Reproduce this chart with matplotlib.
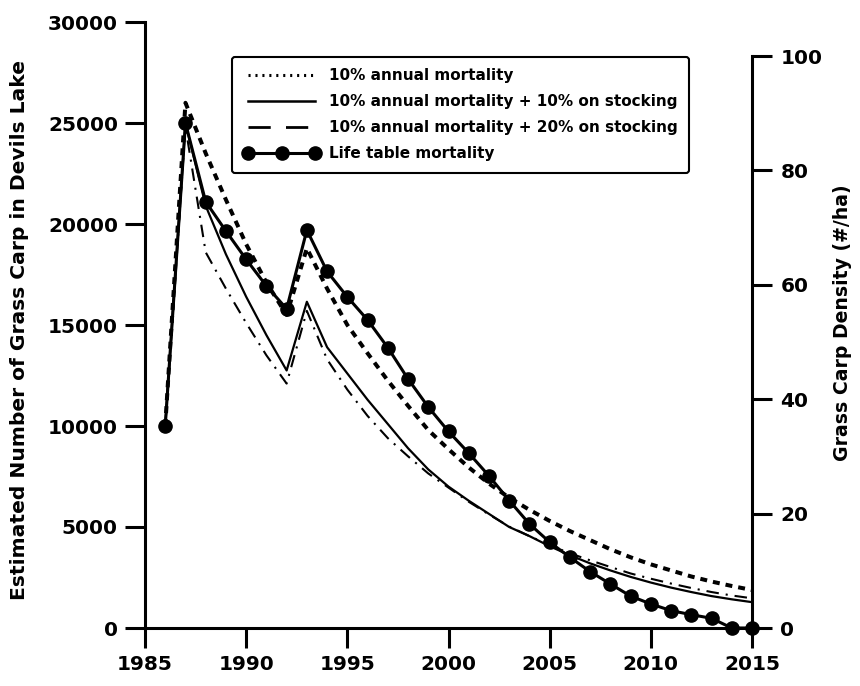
import matplotlib
matplotlib.use("Agg")
import matplotlib.pyplot as plt
from matplotlib.lines import Line2D

plt.rcParams['font.family'] = ['DejaVu Sans']
plt.rcParams['font.weight'] = 'bold'
plt.rcParams['lines.scale_dashes'] = False

# values
years = list(range(1986, 2016))

mort10 = [10000, 26000, 23500, 21200, 19000, 17100, 15500, 18800, 16800, 15000,
          13600, 12250, 11000, 9800, 8850, 7950, 7150, 6450, 5850, 5300,
          4800, 4350, 3900, 3500, 3150, 2850, 2550, 2300, 2080, 1880]

mort10_stock10 = [10000, 25000, 20900, 18500, 16400, 14500, 12750, 16150, 13900, 12600,
                  11300, 10100, 8900, 7850, 7000, 6300, 5650, 5000, 4550, 4050,
                  3600, 3200, 2850, 2530, 2250, 2000, 1780, 1580, 1420, 1280]

mort10_stock20 = [10000, 24800, 18600, 16800, 15100, 13500, 12100, 15700, 13300, 11800,
                  10500, 9400, 8500, 7650, 6950, 6250, 5620, 5020, 4550, 4100,
                  3700, 3350, 3020, 2700, 2440, 2200, 1980, 1780, 1610, 1470]

life_table = [10000, 25000, 21100, 19650, 18250, 16930, 15800, 19700, 17650, 16390,
              15250, 13880, 12330, 10940, 9730, 8660, 7530, 6310, 5150, 4250,
              3500, 2790, 2180, 1580, 1190, 860, 660, 480, 0, 0]

labels = ['10% annual mortality',
          '10% annual mortality + 10% on stocking',
          '10% annual mortality + 20% on stocking',
          'Life table mortality']

left_ticks = [0, 5000, 10000, 15000, 20000, 25000, 30000]
right_ticks = [0, 20, 40, 60, 80, 100]
x_ticks = [1985, 1990, 1995, 2000, 2005, 2010, 2015]

W, H = 860, 686
fig = plt.figure(figsize=(8.6, 6.86), dpi=100)
ax = fig.add_axes([145 / W, 1 - 628 / H, 607 / W, 606 / H])

ax.plot(years, mort10, color='k', lw=2.9, linestyle=(0, (5.0, 4.3)), clip_on=False)
ax.plot(years, mort10_stock10, color='k', lw=1.6, clip_on=False)
ax.plot(years, mort10_stock20, color='k', lw=1.5,
        linestyle=(0, (9, 5, 1.5, 5)), clip_on=False)
ax.plot(years, life_table, color='k', lw=2.2, marker='o', markersize=9.5,
        clip_on=False, zorder=5)

ax.set_xlim(1985, 2015)
ax.set_ylim(0, 30000)
ax.set_xticks(x_ticks)
ax.set_yticks(left_ticks)
ax.spines['top'].set_visible(False)
ax.spines['right'].set_visible(False)
for s in ['left', 'bottom']:
    ax.spines[s].set_linewidth(2.2)
ax.tick_params(axis='both', direction='out', length=14.5, width=2.2,
               labelsize=14.5)
ax.tick_params(axis='y', pad=5)
ax.tick_params(axis='x', pad=5)

# right axis: density (#/ha)
ax2 = ax.twinx()
ax2.set_ylim(0, 100 * 606 / 572)
ax2.set_yticks(right_ticks)
for s in ['left', 'top', 'bottom']:
    ax2.spines[s].set_visible(False)
ax2.spines['right'].set_linewidth(2.2)
ax2.spines['right'].set_bounds(0, 100)
ax2.tick_params(axis='y', direction='out', length=14.5, width=2.2,
                labelsize=14.5, pad=6)

fig.text(20 / W, 1 - 330 / H, 'Estimated Number of Grass Carp in Devils Lake',
         rotation=90, ha='center', va='center', fontsize=14.6)
fig.text(843 / W, 1 - 323 / H, 'Grass Carp Density (#/ha)',
         rotation=90, ha='center', va='center', fontsize=13.6)

handles = [
    Line2D([], [], color='k', lw=2.2, linestyle=(0, (1.5, 3.5))),
    Line2D([], [], color='k', lw=1.8),
    Line2D([], [], color='k', lw=2.0, linestyle=(0, (16, 11))),
    Line2D([], [], color='k', lw=2.2, marker='o', markersize=9.5),
]
leg = ax.legend(handles, labels, loc='upper left',
                bbox_to_anchor=((232 - 145) / 607, (628 - 57) / 606),
                borderaxespad=0, fontsize=11, numpoints=3,
                handlelength=5.0, handletextpad=0.6, labelspacing=0.72,
                borderpad=0.75, frameon=True, fancybox=True, framealpha=1)
leg.get_frame().set_edgecolor('k')
leg.get_frame().set_linewidth(1.5)
for t in leg.get_texts():
    t.set_fontweight('bold')

fig.savefig('out.png', dpi=100)
